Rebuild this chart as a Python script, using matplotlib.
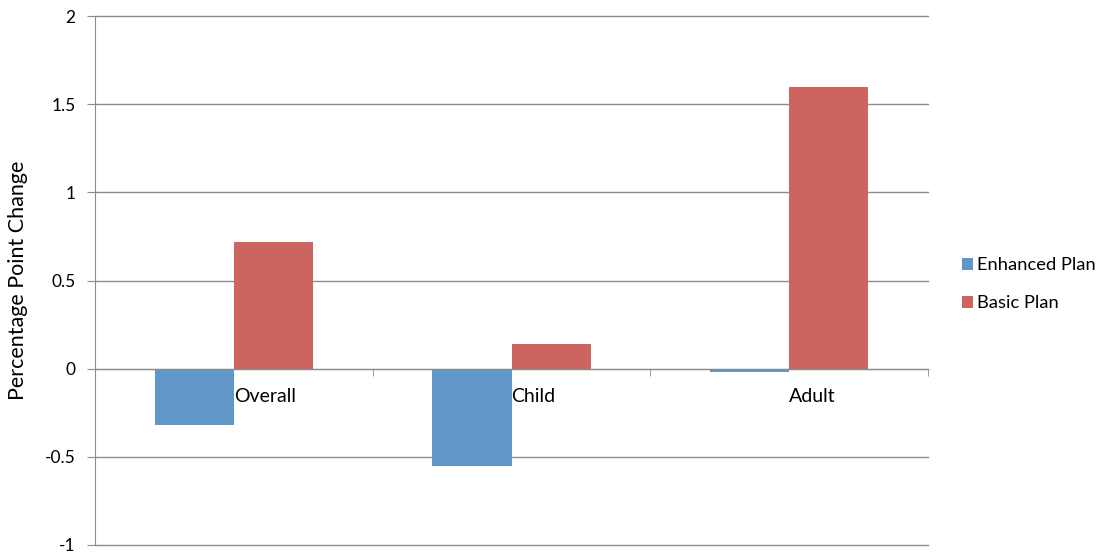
import matplotlib.pyplot as plt
import numpy as np

plt.rcParams['font.family'] = ['Lato', 'DejaVu Sans']
plt.rcParams['axes.unicode_minus'] = False

# data
categories = ['Overall', 'Child', 'Adult']
enhanced = [-0.32, -0.55, -0.02]
basic = [0.72, 0.14, 1.60]
y_ticks = [-1, -0.5, 0, 0.5, 1, 1.5, 2]
y_tick_labels = ['-1', '-0.5', '0', '0.5', '1', '1.5', '2']

grey = '#8c8c8c'
blue = '#6196C9'
red = '#CC6560'

fig = plt.figure(figsize=(11.05, 5.56), dpi=100)
ax = fig.add_axes([0.086, 0.0198, 0.7538, 0.9514])

x = np.arange(len(categories))
w = 0.285
ax.bar(x - w / 2, enhanced, w, color=blue, label='Enhanced Plan', zorder=3)
ax.bar(x + w / 2, basic, w, color=red, label='Basic Plan', zorder=3)

ax.set_xlim(-0.5, len(categories) - 0.5)
ax.set_ylim(-1, 2)

# y axis
ax.set_yticks(y_ticks)
ax.set_yticklabels(y_tick_labels, fontsize=12.5)
for t in y_ticks:
    ax.axhline(t, color=grey, linewidth=1, zorder=0, clip_on=False)
ax.tick_params(axis='y', direction='out', length=6, color=grey, pad=8)
ax.set_ylabel('Percentage Point Change', fontsize=15.5, labelpad=12)

# x axis at zero
for s in ['top', 'right']:
    ax.spines[s].set_visible(False)
ax.spines['left'].set_color(grey)
ax.spines['bottom'].set_position(('data', 0))
ax.spines['bottom'].set_color(grey)
ax.spines['bottom'].set_zorder(4)
ax.set_xticks(x)
ax.set_xticklabels(categories, fontsize=14, ha='left')
ax.tick_params(axis='x', which='major', length=0, pad=14)
ax.set_xticks(np.arange(len(categories)) + 0.5, minor=True)
ax.tick_params(axis='x', which='minor', direction='out', length=5, color=grey)

ax.legend(loc='center left', bbox_to_anchor=(1.026, 0.4925), frameon=False,
          fontsize=13.2, handlelength=0.55, handleheight=0.55, handletextpad=0.25,
          labelspacing=1.2, borderaxespad=0.3)

fig.savefig('out.png', dpi=100)
